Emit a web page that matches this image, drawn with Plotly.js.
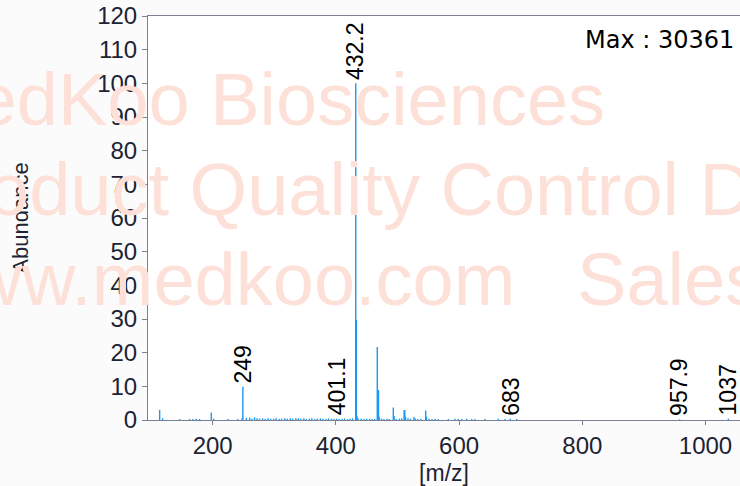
<!DOCTYPE html>
<html>
<head>
<meta charset="utf-8">
<script src="https://cdn.plot.ly/plotly-3.0.1.min.js"></script>
<style>
html,body{margin:0;padding:0;background:#fbfbfb;}
#chart{width:740px;height:486px;}
</style>
</head>
<body>
<div id="chart"></div>
<script>
// Peak list: m/z and relative abundance (%)
const mz = [113.9,118.8,146.4,162.6,168.0,173.4,178.8,197.8,201.6,224.8,241.0,247.6,249.0,254.6,260.0,
  264,268,272,276,281,285,290,294,299,303,308,312,317,321,326,330,335,339,343,348,352,357,361,366,370,375,379,384,388,393,397,401.1,405,410,414,419,423,427,
  432.2,433.2,434.2,436,441,446,450,455,459,463,
  467.2,468.2,469.2,470.2,474,478,483,487,
  493.2,494.5,498,503,507,510.8,511.8,513,517,521,526.8,529,533,538,
  545.8,547,551,556,561,566,
  582.5,593.3,598.7,604.2,612.3,620.5,625.8,642,663.6,674.5,683,693.5,
  957.9,1037];
const abundance = [3.0,0.5,0.3,0.3,0.3,0.4,0.3,2.2,0.4,0.3,0.3,0.5,9.9,0.6,0.7,
  0.4,0.8,0.5,0.4,0.5,0.3,0.5,0.4,0.4,0.5,0.3,0.4,0.5,0.4,0.5,0.4,0.5,0.5,0.4,0.5,0.3,0.4,0.5,0.3,0.4,0.5,0.4,0.3,0.5,0.4,0.3,0.4,0.3,0.4,0.5,0.3,0.4,0.5,
  100,29.7,1.2,0.5,0.4,0.3,0.4,0.4,0.3,0.3,
  21.7,6.4,8.9,1.0,0.4,0.3,0.4,0.3,
  3.7,1.2,0.3,0.4,0.5,3.0,3.0,1.0,0.5,0.4,0.9,0.4,0.3,0.4,
  2.8,1.0,0.4,0.3,0.4,0.3,
  0.3,0.4,0.3,0.3,0.4,0.3,0.3,0.3,0.4,0.3,0.4,0.3,
  0.2,0.4];

// Labelled peaks
const labelMz = [249.0, 401.1, 432.2, 683, 957.9, 1037];
const labelText = ['249', '401.1', '432.2', '683', '957.9', '1037'];

const yTicks = [0,10,20,30,40,50,60,70,80,90,100,110,120];
const xTicks = [200,400,600,800,1000];

const watermarkLines = [
  'MedKoo Biosciences',
  'Product Quality Control Department',
  'www.medkoo.com\u00a0\u00a0\u00a0Sales@medkoo.com'
];
const maxText = 'Max : 30361';

// build stick spectrum
const sx = [], sy = [];
mz.forEach((m, i) => { sx.push(m, m, null); sy.push(0, abundance[i], null); });

const traces = [{
  type: 'scatter', mode: 'lines', x: sx, y: sy,
  line: {color: '#1b98f5', width: 1.4},
  hoverinfo: 'skip', showlegend: false, connectgaps: false
}];

const wmY = [0.7936, 0.5708, 0.348];
const annotations = [];
watermarkLines.forEach((t, i) => {
  annotations.push({
    xref: 'paper', yref: 'paper', x: -0.3986, y: wmY[i],
    xanchor: 'left', yanchor: 'middle', showarrow: false, text: t,
    font: {family: 'Liberation Sans, Arial, sans-serif', size: 74, color: '#fde1d8'}
  });
});
labelMz.forEach((m, i) => {
  const idx = mz.indexOf(m);
  annotations.push({
    xref: 'x', yref: 'y', x: m, y: abundance[idx],
    xanchor: 'center', yanchor: 'bottom', yshift: 1, showarrow: false,
    textangle: -90, text: labelText[i],
    font: {family: 'Liberation Sans, Arial, sans-serif', size: 23, color: '#000000'}
  });
});
annotations.push({
  xref: 'paper', yref: 'paper', x: 0.7348, y: 0.9406,
  xanchor: 'left', yanchor: 'middle', showarrow: false, text: maxText,
  font: {family: 'DejaVu Sans, sans-serif', size: 24, color: '#000000'}
});

const layout = {
  width: 740, height: 486,
  margin: {l: 148, r: 0, t: 16, b: 66, pad: 0},
  paper_bgcolor: '#fbfbfb', plot_bgcolor: '#ffffff',
  showlegend: false,
  font: {family: 'Liberation Sans, Arial, sans-serif', color: '#1c2333'},
  xaxis: {
    range: [95, 1056], tickvals: xTicks, ticktext: xTicks.map(String),
    ticks: 'outside', ticklen: 4, tickcolor: '#7b8094',
    showline: true, linecolor: '#7b8094', linewidth: 1, mirror: true,
    showgrid: false, zeroline: false,
    tickfont: {size: 24, color: '#1c2333'},
    title: {text: '[m/z]', font: {size: 23, color: '#1c2333'}}
  },
  yaxis: {
    range: [0, 120], tickvals: yTicks, ticktext: yTicks.map(String),
    ticks: 'outside', ticklen: 5, tickcolor: '#7b8094',
    showline: true, linecolor: '#7b8094', linewidth: 1, mirror: false,
    showgrid: false, zeroline: false,
    tickfont: {size: 24, color: '#1c2333'},
    title: {text: 'Abundance', font: {size: 22, color: '#1c2333'}, standoff: 62}
  },
  annotations: annotations
};

Plotly.newPlot('chart', traces, layout, {displayModeBar: false, staticPlot: true});
</script>
</body>
</html>
